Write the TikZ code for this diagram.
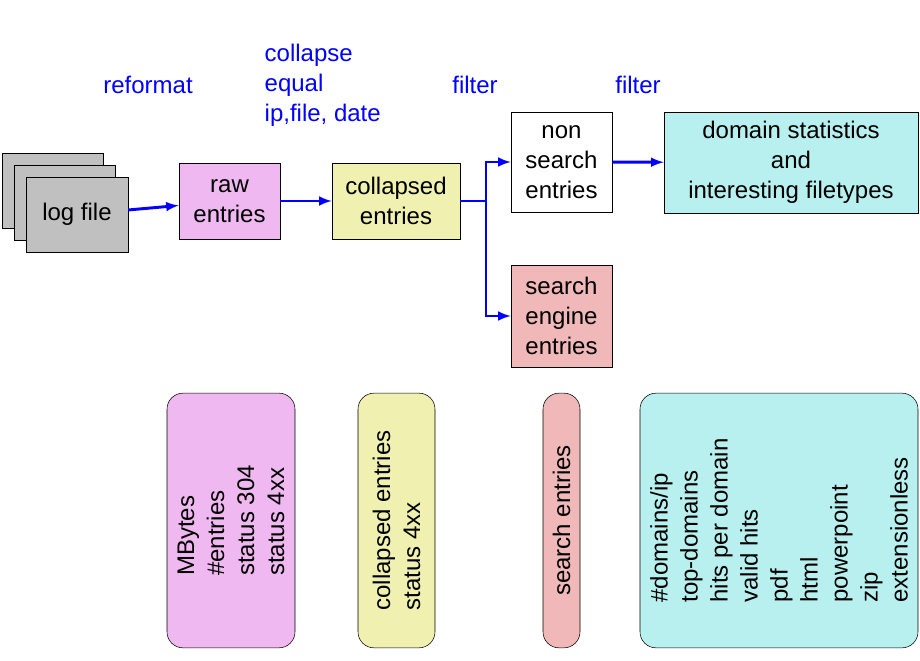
\documentclass[tikz,border=0pt]{standalone}
\usepackage{fontspec}
\setmainfont{Liberation Sans}
\usetikzlibrary{positioning}
\definecolor{logcol}{HTML}{C0C0C0}
\definecolor{rawcol}{HTML}{F0B8F0}
\definecolor{colcol}{HTML}{F0F0B0}
\definecolor{seacol}{HTML}{F0B8B8}
\definecolor{domcol}{HTML}{B8F0F0}
\begin{document}
\begin{tikzpicture}[x=0.75pt, y=-0.75pt, >=latex,
    every node/.style={font=\fontsize{18}{22.5}\selectfont},
    box/.style={draw, inner sep=0pt, align=center},
    stat/.style={draw, rounded corners=12pt, rotate=90, inner sep=0pt, align=left, minimum width=191pt},
    flow/.style={->, blue, line width=2.2pt},
    lbl/.style={text=blue, align=left}]
    \useasboundingbox (0,0) rectangle (920,660);

    % Nodes
    \node (log3) [box, fill=logcol, minimum width=75.75pt, minimum height=56.25pt] at (52.5,190.5) {};
    \node (log2) [box, fill=logcol, minimum width=75.75pt, minimum height=56.25pt] at (64.5,202.5) {};
    \node (log) [box, fill=logcol, minimum width=76.5pt, minimum height=56.25pt] at (77,214.5) {log file};
    \node (raw) [box, fill=rawcol, minimum width=75.75pt, minimum height=57pt] at (229.5,201) {raw\\entries};
    \node (coll) [box, fill=colcol, minimum width=96pt, minimum height=57pt] at (396,201) {collapsed\\entries};
    \node (non) [box, fill=white, minimum width=75.75pt, minimum height=75pt] at (561.5,162) {non\\search\\entries};
    \node (dom) [box, fill=domcol, minimum width=190.5pt, minimum height=75.75pt] at (791,162.5) {domain statistics\\and\\interesting filetypes};
    \node (sea) [box, fill=seacol, minimum width=75.75pt, minimum height=76.5pt] at (561.5,316) {search\\engine\\entries};

    % Labels
    \node (l1) [lbl] at (148,85) {reformat};
    \node (l2) [lbl, anchor=west] at (260,85) {collapse\\equal\\ip,file, date};
    \node (l3) [lbl] at (475,85) {filter};
    \node (l4) [lbl] at (638,85) {filter};

    % Arrows
    \coordinate (br) at (486,201);
    \draw[flow] (log) -- (raw);
    \draw[flow] (raw) -- (coll);
    \draw[blue, line width=2.2pt] (coll) -- (br);
    \draw[flow] (br) |- (non);
    \draw[flow] (br) |- (sea);
    \draw[flow] (non) -- (dom);

    % Statistics boxes
    \node (s1) [stat, fill=rawcol, minimum height=96pt] at (231,520.5) {MBytes\\\#entries\\status 304\\status 4xx};
    \node (s2) [stat, fill=colcol, minimum height=57.75pt] at (396.5,520.5) {collapsed entries\\status 4xx};
    \node (s3) [stat, fill=seacol, minimum height=27.75pt] at (561.5,520.5) {search entries};
    \node (s4) [stat, fill=domcol, minimum height=208.5pt] at (779,520.5) {\#domains/ip\\top-domains\\hits per domain\\valid hits\\pdf\\html\\powerpoint\\zip\\extensionless};
\end{tikzpicture}
\end{document}
